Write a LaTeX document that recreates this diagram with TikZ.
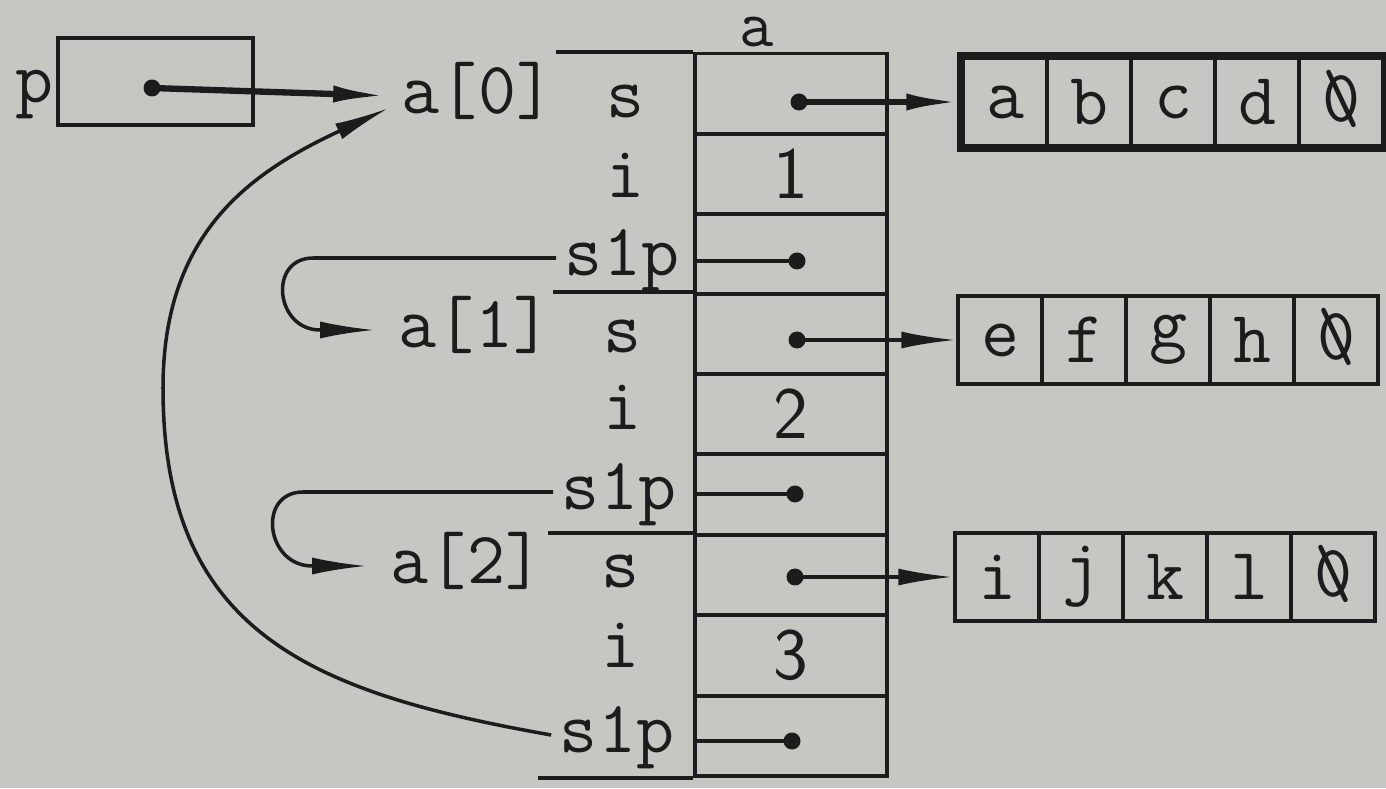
\documentclass[tikz,border=0pt]{standalone}
\usepackage{tikz}
\usetikzlibrary{arrows.meta}
\definecolor{paper}{RGB}{198,198,195}
\definecolor{ink}{RGB}{28,28,28}
\newcommand{\nulch}{\ooalign{0\cr\hidewidth\textbackslash\hidewidth}}

\begin{document}
\begin{tikzpicture}[color=ink, line width=1pt,
  every node/.style={font=\fontsize{21}{25}\selectfont\ttfamily},
  lbl/.style={inner sep=2pt, text height=14pt, text depth=4pt},
  cell/.style={draw, minimum width=1.92cm, minimum height=0.805cm, inner sep=0pt, font=\fontsize{21}{25}\selectfont\sffamily},
  chr/.style={draw, minimum width=0.84cm, minimum height=0.88cm, inner sep=0pt},
  ptrdot/.style={circle, fill=ink, inner sep=0pt, minimum size=1.7mm},
  ptr/.style={-{Latex[length=5.5mm, width=1.7mm]}}]
  \useasboundingbox (0,0) rectangle (13.86,7.88);
  \fill[paper] (0,0) rectangle (13.86,7.88);

  % pointer p
  \node[lbl] (plbl) at (0.35,7.03) {p};
  \node[draw, minimum width=1.95cm, minimum height=0.87cm] (pbox) at (1.555,7.065) {};
  \node[ptrdot] (pdot) at (1.52,7.0) {};

  % the array a of structs
  \node[inner sep=0pt, anchor=base, font=\fontsize{19}{22}\selectfont\ttfamily] (alabel) at (7.57,7.41) {a};
  \node[cell] (s0) at (7.91,6.94) {};
  \node[cell] (i0) at (7.91,6.14) {1};
  \node[cell] (n0) at (7.91,5.34) {};
  \node[cell] (s1) at (7.91,4.54) {};
  \node[cell] (i1) at (7.91,3.74) {2};
  \node[cell] (n1) at (7.91,2.935) {};
  \node[cell] (s2) at (7.91,2.13) {};
  \node[cell] (i2) at (7.91,1.325) {3};
  \node[cell] (n2) at (7.91,0.52) {};

  \draw ([xshift=-1.37cm]s0.north west) -- (s0.north west);
  \draw ([xshift=-1.4cm]s1.north west) -- (s1.north west);
  \draw ([xshift=-1.45cm]s2.north west) -- (s2.north west);
  \draw ([xshift=-1.55cm]n2.south west) -- (n2.south west);

  \node[lbl] (a0) at (4.78,6.92) {a[0]};
  \node[lbl] (s0lbl) at (6.25,6.88) {s};
  \node[lbl] (i0lbl) at (6.25,6.08) {i};
  \node[lbl] (n0lbl) at (6.22,5.30) {s1p};
  \node[lbl] (a1) at (4.75,4.58) {a[1]};
  \node[lbl] (s1lbl) at (6.22,4.53) {s};
  \node[lbl] (i1lbl) at (6.22,3.76) {i};
  \node[lbl] (n1lbl) at (6.19,2.96) {s1p};
  \node[lbl] (a2) at (4.67,2.22) {a[2]};
  \node[lbl] (s2lbl) at (6.20,2.18) {s};
  \node[lbl] (i2lbl) at (6.20,1.38) {i};
  \node[lbl] (n2lbl) at (6.17,0.53) {s1p};

  \node[ptrdot] (s0dot) at (7.99,6.86) {};
  \node[ptrdot] (n0dot) at (7.97,5.27) {};
  \node[ptrdot] (s1dot) at (7.97,4.48) {};
  \node[ptrdot] (n1dot) at (7.95,2.94) {};
  \node[ptrdot] (s2dot) at (7.95,2.11) {};
  \node[ptrdot] (n2dot) at (7.92,0.47) {};

  % the strings
  \foreach \ch [count=\k] in {a,b,c,d,\nulch}
    \node[chr] (str0-\k) at ({9.21+0.84*\k},6.86) {\ch};
  \foreach \ch [count=\k] in {e,f,g,h,\nulch}
    \node[chr] (str1-\k) at ({9.16+0.84*\k},4.48) {\ch};
  \foreach \ch [count=\k] in {i,j,k,l,\nulch}
    \node[chr] (str2-\k) at ({9.13+0.84*\k},2.11) {\ch};
  \draw[line width=2.2pt] (str0-1.north west) rectangle (str0-5.south east);

  % pointers
  \draw[ptr, line width=1.8pt, shorten >=0.5mm] (pdot.center) -- (a0.west);
  \draw[ptr, line width=1.8pt] (s0dot.center) -- (str0-1.west);
  \draw[ptr] (s1dot.center) -- (str1-1.west);
  \draw[ptr] (s2dot.center) -- (str2-1.west);
  \draw (n0dot.center) -- (n0dot -| n0.west);
  \draw (n1dot.center) -- (n1dot -| n1.west);
  \draw (n2dot.center) -- (n2dot -| n2.west);

  \draw[ptr, shorten >=1.5mm] (n0lbl.west) -- ++(-2.43,0) to[out=180, in=180, looseness=1.6] ([xshift=-7mm]a1.west) -- (a1.west);
  \draw[ptr, shorten >=1.5mm] (n1lbl.west) -- ++(-2.5,0) to[out=180, in=180, looseness=1.6] ([xshift=-7mm]a2.west) -- (a2.west);
  \draw[ptr, shorten >=0.5mm] (n2lbl.west) to[out=170, in=270, looseness=1.2] (1.63,4.0) to[out=90, in=205, looseness=1.1] ([yshift=-1mm]a0.west);
\end{tikzpicture}
\end{document}
